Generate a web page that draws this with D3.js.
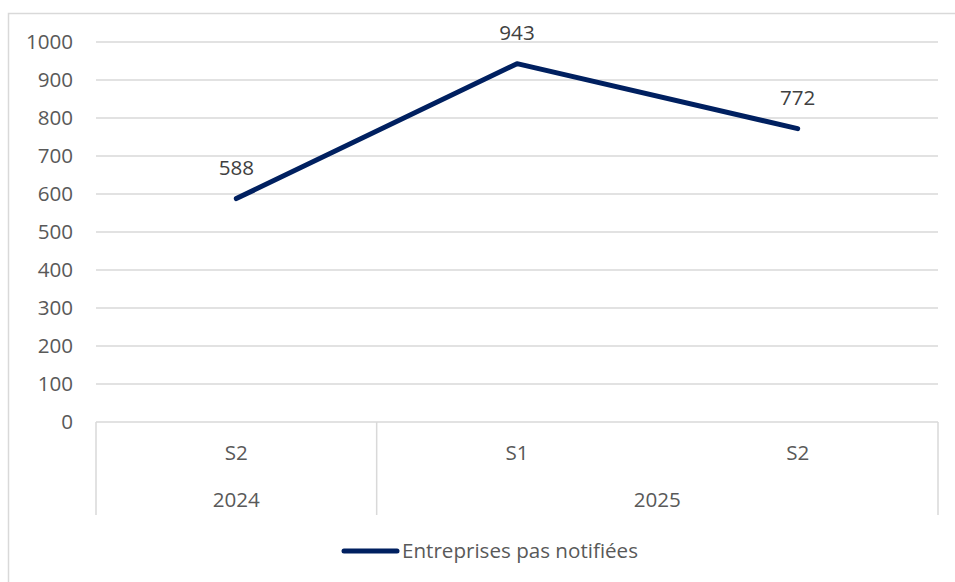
<!DOCTYPE html>
<html><head><meta charset="utf-8">
<script src="https://cdn.jsdelivr.net/npm/d3@7"></script>
<style>html,body{margin:0;padding:0;background:#fff;}</style>
</head><body>
<svg id="c" width="955" height="582"></svg>
<script>
const periods = ["S2", "S1", "S2"];
const years = ["2024", "2025", "2025"];
const yearGroups = [{year: "2024", from: 0, to: 0}, {year: "2025", from: 1, to: 2}];
const values = [588, 943, 772];
const seriesName = "Entreprises pas notifiées";
const yTicks = [0, 100, 200, 300, 400, 500, 600, 700, 800, 900, 1000];

(function () {
const svg = d3.select("#c");
const font = "'Open Sans', sans-serif";
const fs = 20.6;
const textColor = "#595959";
const gridColor = "#d9d9d9";
const lineColor = "#002060";

svg.append("rect").attr("x", 8.5).attr("y", 13.5).attr("width", 1000).attr("height", 1000)
  .attr("fill", "none").attr("stroke", gridColor).attr("stroke-width", 1.5);

const pLeft = 96, pRight = 938, pTop = 42, pBottom = 422;
const x = d3.scaleBand().domain(d3.range(values.length)).range([pLeft, pRight]).padding(0);
const y = d3.scaleLinear().domain([0, 1000]).range([pBottom, pTop]);

svg.append("g").selectAll("line").data(yTicks.filter(d => d > 0)).join("line")
  .attr("x1", pLeft).attr("x2", pRight).attr("y1", d => y(d)).attr("y2", d => y(d))
  .attr("stroke", gridColor).attr("stroke-width", 1.5);

const yAxis = d3.axisLeft(y).tickValues(yTicks).tickSize(0).tickPadding(0).tickFormat(d3.format("d"));
const gy = svg.append("g").attr("transform", `translate(${73},0)`).call(yAxis);
gy.select(".domain").remove();
gy.selectAll("text").attr("font-family", font).attr("font-size", fs).attr("fill", textColor);

svg.append("line").attr("x1", pLeft).attr("x2", pRight).attr("y1", pBottom).attr("y2", pBottom)
  .attr("stroke", gridColor).attr("stroke-width", 1.5);
const dividers = [pLeft, x(yearGroups[1].from), pRight];
svg.append("g").selectAll("line").data(dividers).join("line")
  .attr("x1", d => d).attr("x2", d => d).attr("y1", pBottom).attr("y2", 515)
  .attr("stroke", gridColor).attr("stroke-width", 1.5);

svg.append("g").selectAll("text").data(periods).join("text")
  .attr("x", (d, i) => x(i) + x.bandwidth() / 2).attr("y", 460)
  .attr("text-anchor", "middle").attr("font-family", font).attr("font-size", fs).attr("fill", textColor)
  .text(d => d);
svg.append("g").selectAll("text").data(yearGroups).join("text")
  .attr("x", d => (x(d.from) + x(d.to) + x.bandwidth()) / 2).attr("y", 507)
  .attr("text-anchor", "middle").attr("font-family", font).attr("font-size", fs).attr("fill", textColor)
  .text(d => d.year);

const line = d3.line().x((d, i) => x(i) + x.bandwidth() / 2).y(d => y(d));
svg.append("path").datum(values).attr("d", line).attr("fill", "none")
  .attr("stroke", lineColor).attr("stroke-width", 5).attr("stroke-linecap", "round").attr("stroke-linejoin", "round");

svg.append("g").selectAll("text").data(values).join("text")
  .attr("x", (d, i) => x(i) + x.bandwidth() / 2).attr("y", d => y(d) - 24)
  .attr("text-anchor", "middle").attr("font-family", font).attr("font-size", fs).attr("fill", "#404040")
  .text(d => d);

svg.append("line").attr("x1", 344).attr("x2", 397).attr("y1", 551).attr("y2", 551)
  .attr("stroke", lineColor).attr("stroke-width", 5).attr("stroke-linecap", "round");
svg.append("text").attr("x", 402).attr("y", 558).attr("font-family", font).attr("font-size", fs)
  .attr("fill", textColor).text(seriesName);
})();
</script>
</body></html>
